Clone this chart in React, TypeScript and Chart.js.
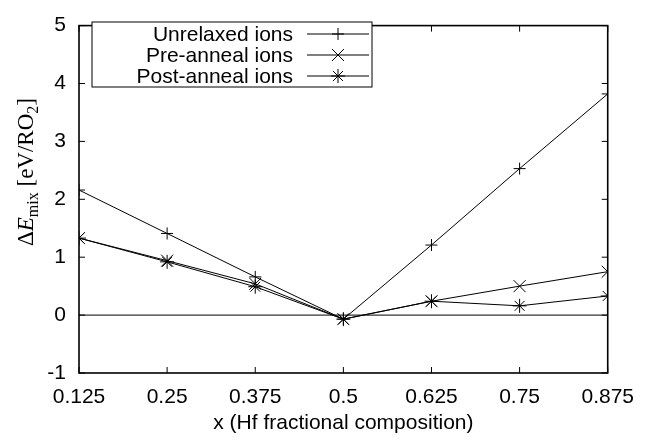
import React, { useEffect, useRef } from "react";
import { Chart, registerables } from "chart.js";

Chart.register(...registerables);

const xValues = [0.125, 0.25, 0.375, 0.5, 0.625, 0.75, 0.875];
const xTickLabels = ["0.125", "0.25", "0.375", "0.5", "0.625", "0.75", "0.875"];
const unrelaxed = [2.16, 1.41, 0.66, -0.07, 1.21, 2.53, 3.82];
const preAnneal = [1.33, 0.94, 0.54, -0.07, 0.24, 0.5, 0.75];
const postAnneal = [1.33, 0.92, 0.49, -0.07, 0.24, 0.16, 0.33];
const zeroLine = [0, 0];
const zeroLineX = [0.125, 0.875];
const seriesNames = ["Unrelaxed ions", "Pre-anneal ions", "Post-anneal ions"];
const seriesStyles = ["cross", "crossRot", "star"];
const seriesRadius = [6, 8.5, 7];
const yMin = -1;
const yMax = 5;

const SANS = "'Liberation Sans', Arial, Helvetica, sans-serif";
const SERIF = "'Liberation Serif', 'Times New Roman', serif";

function drawMarker(ctx: CanvasRenderingContext2D, style: string, x: number, y: number, r: number) {
  ctx.beginPath();
  if (style === "cross" || style === "star") {
    ctx.moveTo(x - r, y);
    ctx.lineTo(x + r, y);
    ctx.moveTo(x, y - r);
    ctx.lineTo(x, y + r);
  }
  if (style === "crossRot" || style === "star") {
    const d = r * Math.SQRT1_2;
    ctx.moveTo(x - d, y - d);
    ctx.lineTo(x + d, y + d);
    ctx.moveTo(x - d, y + d);
    ctx.lineTo(x + d, y - d);
  }
  ctx.stroke();
}

const framePlugin = {
  id: "frame",
  afterDatasetsDraw(chart: any) {
    const ctx = chart.ctx as CanvasRenderingContext2D;
    const { left, right, top, bottom } = chart.chartArea;
    const xs = chart.scales.x;
    const ys = chart.scales.y;
    ctx.save();
    ctx.strokeStyle = "#000";
    ctx.lineWidth = 1.6;
    ctx.strokeRect(left, top, right - left, bottom - top);
    const tl = 6;
    ctx.lineWidth = 1;
    ctx.beginPath();
    xs.ticks.forEach((t: any) => {
      const px = xs.getPixelForValue(t.value);
      ctx.moveTo(px, bottom);
      ctx.lineTo(px, bottom - tl);
      ctx.moveTo(px, top);
      ctx.lineTo(px, top + tl);
    });
    ys.ticks.forEach((t: any) => {
      const py = ys.getPixelForValue(t.value);
      ctx.moveTo(left, py);
      ctx.lineTo(left + tl, py);
      ctx.moveTo(right, py);
      ctx.lineTo(right - tl, py);
    });
    ctx.stroke();

    // legend
    const bx = 92, by = 22, bw = 280, bh = 65;
    ctx.fillStyle = "#fff";
    ctx.fillRect(bx, by, bw, bh);
    ctx.strokeRect(bx, by, bw, bh);
    ctx.fillStyle = "#000";
    ctx.font = `21px ${SANS}`;
    ctx.textAlign = "right";
    ctx.textBaseline = "middle";
    seriesNames.forEach((name, i) => {
      const ry = 34 + i * 21;
      ctx.fillText(name, 293, ry + 1);
      ctx.beginPath();
      ctx.moveTo(307, ry);
      ctx.lineTo(369, ry);
      ctx.stroke();
      drawMarker(ctx, seriesStyles[i], 338, ry, seriesRadius[i]);
    });

    // y axis title
    ctx.translate(33, 172);
    ctx.rotate(-Math.PI / 2);
    ctx.textAlign = "left";
    ctx.textBaseline = "alphabetic";
    const parts: [string, string, number][] = [
      ["Δ", `23px ${SERIF}`, 0],
      ["E", `italic 23px ${SERIF}`, 0],
      ["mix", `16px ${SERIF}`, 5],
      [" [eV/RO", `23px ${SERIF}`, 0],
      ["2", `16px ${SERIF}`, 5],
      ["]", `23px ${SERIF}`, 0],
    ];
    let total = 0;
    parts.forEach(([t, f]) => {
      ctx.font = f;
      total += ctx.measureText(t).width;
    });
    let cx = -total / 2;
    parts.forEach(([t, f, dy]) => {
      ctx.font = f;
      ctx.fillText(t, cx, dy);
      cx += ctx.measureText(t).width;
    });
    ctx.restore();
  },
};

export default function App() {
  const canvasRef = useRef<HTMLCanvasElement | null>(null);
  useEffect(() => {
    if (!canvasRef.current) return;
    const mk = (vals: number[]) => vals.map((v, i) => ({ x: xValues[i], y: v }));
    const datasets: any[] = [
      {
        label: "zero",
        data: zeroLineX.map((x, i) => ({ x, y: zeroLine[i] })),
        borderColor: "#000",
        borderWidth: 1,
        pointRadius: 0,
      },
    ];
    [unrelaxed, preAnneal, postAnneal].forEach((vals, i) => {
      datasets.push({
        label: seriesNames[i],
        data: mk(vals),
        borderColor: "#000",
        borderWidth: 1,
        pointStyle: seriesStyles[i],
        pointRadius: seriesRadius[i],
        pointBorderColor: "#000",
        pointBorderWidth: 1,
        pointBackgroundColor: "#000",
      });
    });
    const chart = new Chart(canvasRef.current, {
      type: "line",
      data: { datasets },
      plugins: [framePlugin],
      options: {
        animation: false,
        responsive: false,
        maintainAspectRatio: false,
        layout: { padding: { top: 17, right: 31, left: 0, bottom: 0 } },
        plugins: { legend: { display: false }, tooltip: { enabled: false } },
        scales: {
          x: {
            type: "linear",
            min: 0.125,
            max: 0.875,
            afterBuildTicks: (s: any) => {
              s.ticks = xValues.map((v) => ({ value: v }));
            },
            afterFit: (s: any) => {
              s.height = 68;
            },
            ticks: {
              color: "#000",
              font: { family: SANS, size: 21 },
              padding: 12,
              maxRotation: 0,
              autoSkip: false,
              callback: (v: any) => {
                const idx = xValues.findIndex((x) => Math.abs(x - Number(v)) < 1e-9);
                return idx >= 0 ? xTickLabels[idx] : "";
              },
            },
            grid: { display: false, drawTicks: false },
            border: { display: false },
            title: {
              display: true,
              text: "x (Hf fractional composition)",
              color: "#000",
              font: { family: SANS, size: 21 },
              padding: { top: 0, bottom: 5 },
            },
          },
          y: {
            type: "linear",
            min: yMin,
            max: yMax,
            afterFit: (s: any) => {
              s.width = 79;
            },
            ticks: {
              stepSize: 1,
              color: "#000",
              font: { family: SANS, size: 21 },
              padding: 13,
            },
            grid: { display: false, drawTicks: false },
            border: { display: false },
          },
        },
      } as any,
    });
    return () => chart.destroy();
  }, []);
  return (
    <div style={{ position: "fixed", left: 0, top: 0, width: 646, height: 441, background: "#fff" }}>
      <canvas ref={canvasRef} width={646} height={441} style={{ width: 646, height: 441 }} />
    </div>
  );
}
